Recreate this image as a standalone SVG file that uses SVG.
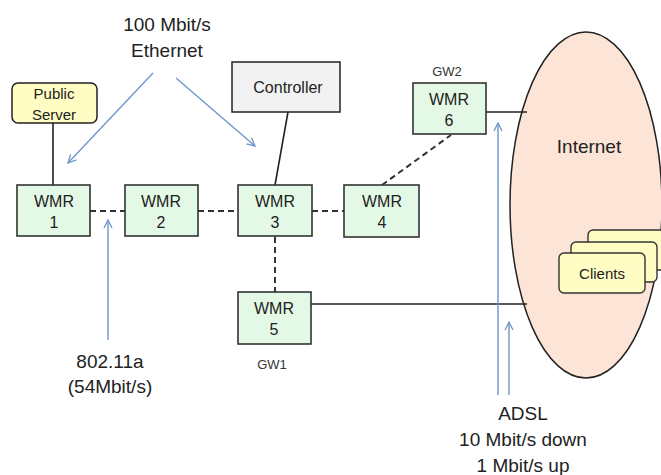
<svg xmlns="http://www.w3.org/2000/svg" width="661" height="475" viewBox="0 0 661 475">
  <defs>
    <marker id="arrow" viewBox="0 0 10 10" refX="9" refY="5" markerWidth="10" markerHeight="10" markerUnits="userSpaceOnUse" orient="auto">
      <path d="M1,1 L9,5 L1,9" fill="none" stroke="#6F96CC" stroke-width="1.3"/>
    </marker>
    <style>
      text { font-family: "Liberation Sans", Arial, sans-serif; fill: #222; text-anchor: middle; }
      .wmr rect { fill: #E4F8E6; stroke: #333; stroke-width: 1.6; }
      .wmr text { font-size: 16px; }
      .wire { stroke: #222; stroke-width: 1.6; fill: none; }
      .radio { stroke: #333; stroke-width: 2; stroke-dasharray: 6 4; fill: none; }
      .note { stroke: #6F96CC; stroke-width: 1.4; fill: none; marker-end: url(#arrow); }
      .label { font-size: 19px; }
      .gw { font-size: 13px; fill: #333; }
      .client rect { fill: #FFFDC4; stroke: #333; stroke-width: 1.4; }
    </style>
  </defs>

  <!-- Internet cloud -->
  <g id="internet">
    <ellipse cx="586" cy="205" rx="76" ry="173" fill="#FCE4D6" stroke="#222" stroke-width="1.5"/>
    <text x="589" y="153" font-size="19">Internet</text>
  </g>

  <!-- Clients stack -->
  <g id="clients" class="client">
    <rect x="588" y="230" width="86" height="40" rx="5"/>
    <rect x="571" y="242" width="86" height="40" rx="5"/>
    <rect x="559" y="253" width="86" height="40" rx="5"/>
    <text x="602" y="279" font-size="15">Clients</text>
  </g>

  <!-- Connectors -->
  <g id="connectors">
    <line class="wire" x1="53" y1="123" x2="53" y2="185"/>
    <line class="wire" x1="288" y1="112" x2="275" y2="185"/>
    <line class="wire" x1="486" y1="112" x2="527" y2="112"/>
    <line class="wire" x1="311" y1="304" x2="527" y2="304"/>
    <line class="radio" x1="90" y1="211" x2="125" y2="211"/>
    <line class="radio" x1="198" y1="211" x2="238" y2="211"/>
    <line class="radio" x1="312" y1="211" x2="344" y2="211"/>
    <line class="radio" x1="382" y1="185" x2="451" y2="135"/>
    <line class="radio" x1="275" y1="237" x2="275" y2="292"/>
    <!-- annotation arrows -->
    <line class="note" x1="153" y1="73" x2="68" y2="163"/>
    <line class="note" x1="176" y1="78" x2="255" y2="146"/>
    <line class="note" x1="108" y1="340" x2="108" y2="220"/>
    <line class="note" x1="498" y1="395" x2="498" y2="123"/>
    <line class="note" x1="509" y1="395" x2="509" y2="322"/>
  </g>

  <!-- Public server -->
  <g id="public-server">
    <rect x="12" y="83" width="85" height="40" rx="6" fill="#FFFDC4" stroke="#222" stroke-width="1.5"/>
    <text x="54" y="99" font-size="15">Public</text>
    <text x="54" y="120" font-size="15">Server</text>
  </g>

  <!-- Controller -->
  <g id="controller">
    <rect x="232" y="62" width="108" height="50" fill="#F2F2F2" stroke="#222" stroke-width="1.5"/>
    <text x="288" y="93" font-size="16">Controller</text>
  </g>

  <!-- Wireless mesh routers -->
  <g id="wmr1" class="wmr">
    <rect x="17" y="185" width="73" height="51"/>
    <text x="54" y="207">WMR</text>
    <text x="54" y="228">1</text>
  </g>
  <g id="wmr2" class="wmr">
    <rect x="125" y="185" width="73" height="51"/>
    <text x="161" y="207">WMR</text>
    <text x="161" y="228">2</text>
  </g>
  <g id="wmr3" class="wmr">
    <rect x="238" y="185" width="74" height="51"/>
    <text x="275" y="207">WMR</text>
    <text x="275" y="228">3</text>
  </g>
  <g id="wmr4" class="wmr">
    <rect x="344" y="185" width="75" height="52"/>
    <text x="382" y="207">WMR</text>
    <text x="382" y="228">4</text>
  </g>
  <g id="wmr5" class="wmr">
    <rect x="238" y="292" width="73" height="52"/>
    <text x="274" y="314">WMR</text>
    <text x="274" y="335">5</text>
  </g>
  <g id="wmr6" class="wmr">
    <rect x="413" y="83" width="73" height="51"/>
    <text x="449" y="105">WMR</text>
    <text x="449" y="126">6</text>
  </g>

  <!-- Gateway tags -->
  <text class="gw" x="447" y="76">GW2</text>
  <text class="gw" x="272" y="369">GW1</text>

  <!-- Link annotations -->
  <text class="label" x="167" y="31">100 Mbit/s</text>
  <text class="label" x="167" y="57">Ethernet</text>
  <text class="label" x="110" y="368">802.11a</text>
  <text class="label" x="110" y="393">(54Mbit/s)</text>
  <text class="label" x="523" y="420">ADSL</text>
  <text class="label" x="523" y="446">10 Mbit/s down</text>
  <text class="label" x="523" y="472">1 Mbit/s up</text>
</svg>
